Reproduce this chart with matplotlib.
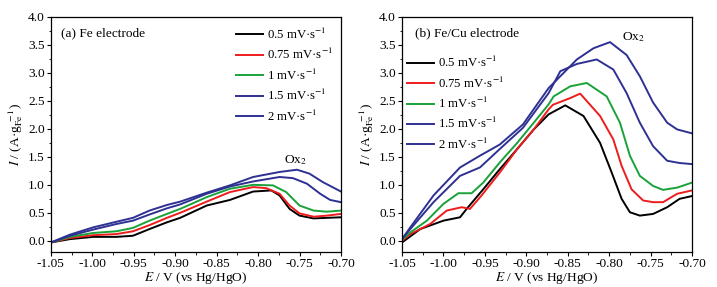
import numpy as np
import matplotlib
matplotlib.use("Agg")
import matplotlib.pyplot as plt
from matplotlib.ticker import MultipleLocator, FormatStrFormatter

plt.rcParams['font.family'] = ['Liberation Serif', 'DejaVu Serif']
plt.rcParams['mathtext.fontset'] = 'stix'

labels = ['0.5 mV·s$^{-1}$', '0.75 mV·s$^{-1}$', '1 mV·s$^{-1}$',
          '1.5 mV·s$^{-1}$', '2 mV·s$^{-1}$']
colors = ['black', '#ee1c1c', '#1aa23a', '#2e3192', '#2e3192']

# (a) Fe electrode
fe_x = [
    [-1.05, -1.027, -0.999, -0.971, -0.951, -0.931, -0.91, -0.894, -0.862, -0.834, -0.806, -0.784, -0.774, -0.762, -0.75, -0.733, -0.717, -0.70],
    [-1.05, -1.027, -0.999, -0.971, -0.951, -0.931, -0.91, -0.894, -0.862, -0.834, -0.806, -0.79, -0.774, -0.762, -0.75, -0.733, -0.717, -0.70],
    [-1.05, -1.027, -0.999, -0.971, -0.951, -0.931, -0.91, -0.894, -0.862, -0.834, -0.806, -0.782, -0.766, -0.75, -0.733, -0.717, -0.70],
    [-1.05, -1.027, -0.999, -0.971, -0.951, -0.931, -0.91, -0.894, -0.862, -0.834, -0.806, -0.774, -0.758, -0.741, -0.725, -0.713, -0.70],
    [-1.05, -1.027, -0.999, -0.971, -0.951, -0.931, -0.91, -0.894, -0.862, -0.834, -0.806, -0.774, -0.753, -0.738, -0.722, -0.70],
]
fe_y = [
    [-0.03, 0.03, 0.07, 0.07, 0.09, 0.21, 0.33, 0.41, 0.63, 0.73, 0.88, 0.90, 0.81, 0.57, 0.45, 0.40, 0.41, 0.42],
    [-0.03, 0.05, 0.10, 0.12, 0.17, 0.28, 0.41, 0.50, 0.70, 0.87, 0.96, 0.94, 0.84, 0.63, 0.49, 0.43, 0.45, 0.48],
    [-0.03, 0.07, 0.14, 0.17, 0.23, 0.36, 0.48, 0.57, 0.78, 0.93, 1.00, 0.99, 0.87, 0.63, 0.54, 0.52, 0.54],
    [-0.03, 0.09, 0.20, 0.30, 0.36, 0.47, 0.58, 0.65, 0.84, 0.97, 1.06, 1.14, 1.12, 1.02, 0.84, 0.73, 0.69],
    [-0.03, 0.11, 0.24, 0.34, 0.41, 0.54, 0.64, 0.70, 0.86, 0.99, 1.14, 1.23, 1.27, 1.20, 1.05, 0.88],
]

# (b) Fe/Cu electrode
cu_x = [
    [-1.05, -1.028, -1.0, -0.98, -0.972, -0.952, -0.932, -0.911, -0.891, -0.873, -0.853, -0.831, -0.811, -0.797, -0.785, -0.775, -0.763, -0.747, -0.73, -0.715, -0.70],
    [-1.05, -1.04, -1.016, -0.996, -0.978, -0.968, -0.954, -0.932, -0.911, -0.891, -0.873, -0.868, -0.847, -0.835, -0.811, -0.795, -0.785, -0.773, -0.759, -0.747, -0.735, -0.718, -0.70],
    [-1.05, -1.04, -1.02, -1.0, -0.982, -0.966, -0.952, -0.932, -0.911, -0.891, -0.873, -0.867, -0.847, -0.827, -0.803, -0.787, -0.775, -0.763, -0.747, -0.735, -0.718, -0.70],
    [-1.05, -1.04, -1.012, -0.98, -0.956, -0.932, -0.904, -0.873, -0.859, -0.839, -0.815, -0.795, -0.779, -0.763, -0.747, -0.73, -0.715, -0.70],
    [-1.05, -1.04, -1.012, -0.98, -0.956, -0.932, -0.904, -0.873, -0.839, -0.819, -0.799, -0.779, -0.763, -0.747, -0.73, -0.718, -0.70],
]
cu_y = [
    [-0.03, 0.21, 0.36, 0.42, 0.57, 0.92, 1.28, 1.64, 1.99, 2.26, 2.42, 2.23, 1.75, 1.22, 0.75, 0.51, 0.45, 0.48, 0.60, 0.75, 0.80],
    [0.0, 0.12, 0.30, 0.54, 0.60, 0.57, 0.81, 1.22, 1.64, 1.99, 2.35, 2.43, 2.55, 2.63, 2.23, 1.81, 1.34, 0.92, 0.72, 0.69, 0.69, 0.84, 0.90],
    [0.02, 0.15, 0.36, 0.66, 0.85, 0.85, 1.04, 1.40, 1.75, 2.11, 2.44, 2.58, 2.76, 2.82, 2.58, 2.11, 1.52, 1.16, 0.98, 0.91, 0.95, 1.04],
    [0.03, 0.21, 0.69, 1.16, 1.31, 1.64, 2.02, 2.64, 3.03, 3.16, 3.24, 3.06, 2.64, 2.11, 1.69, 1.43, 1.39, 1.37],
    [0.03, 0.24, 0.81, 1.31, 1.52, 1.72, 2.08, 2.73, 3.24, 3.44, 3.55, 3.32, 2.94, 2.47, 2.11, 1.99, 1.92],
]

fig = plt.figure(figsize=(7.17, 2.87), dpi=100)
ax1 = fig.add_axes([0.071, 0.122, 0.4045, 0.819])
ax2 = fig.add_axes([0.5607, 0.122, 0.4045, 0.819])

for ax, xs, ys in [(ax1, fe_x, fe_y), (ax2, cu_x, cu_y)]:
    for x, y, c, lab in zip(xs, ys, colors, labels):
        ax.plot(x, y, color=c, lw=1.4, label=lab)
    ax.set_xlim(-1.05, -0.70)
    ax.set_ylim(-0.2, 4.0)
    ax.xaxis.set_major_locator(MultipleLocator(0.05))
    ax.xaxis.set_minor_locator(MultipleLocator(0.025))
    ax.yaxis.set_major_locator(MultipleLocator(0.5))
    ax.yaxis.set_minor_locator(MultipleLocator(0.25))
    ax.xaxis.set_major_formatter(FormatStrFormatter('%.2f'))
    ax.yaxis.set_major_formatter(FormatStrFormatter('%.1f'))
    ax.tick_params(which='major', direction='out', length=3, width=0.8, labelsize=9.6, pad=1.5)
    ax.tick_params(which='minor', direction='out', length=1.8, width=0.6)
    for s in ax.spines.values():
        s.set_linewidth(0.9)
    ax.set_xlabel('$E$ / V (vs Hg/HgO)', fontsize=9.6, labelpad=0)
    ax.set_ylabel('$I$ / (A·g$_{\\rm Fe}^{\\ -1}$)', fontsize=9.6, labelpad=2)

ax1.text(0.035, 0.955, '(a) Fe electrode', transform=ax1.transAxes, fontsize=9.6, va='top')
ax1.text(-0.755, 1.45, 'Ox$_2$', fontsize=9.6, ha='center', va='center')
ax1.legend(loc='upper left', bbox_to_anchor=(0.62, 0.98), frameon=False, fontsize=9.2,
           handlelength=2.1, handletextpad=0.35, labelspacing=0.42, borderaxespad=0.0)

ax2.text(0.045, 0.955, '(b) Fe/Cu electrode', transform=ax2.transAxes, fontsize=9.6, va='top')
ax2.text(-0.771, 3.64, 'Ox$_2$', fontsize=9.6, ha='center', va='center')
ax2.legend(loc='upper left', bbox_to_anchor=(0.0, 0.86), frameon=False, fontsize=9.2,
           handlelength=2.1, handletextpad=0.35, labelspacing=0.42, borderaxespad=0.0)

fig.savefig('out.png', dpi=100)
